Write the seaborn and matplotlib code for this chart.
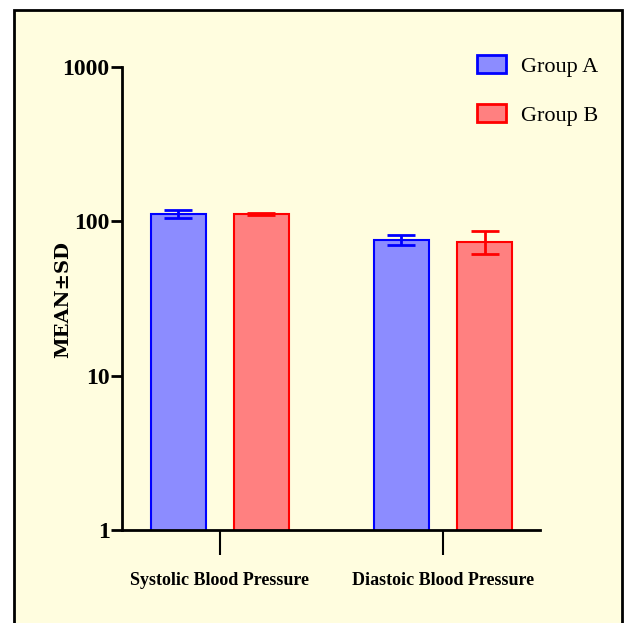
import matplotlib
matplotlib.use("Agg")
import matplotlib.pyplot as plt
import matplotlib.patches as mpatches
import seaborn as sns
import pandas as pd

categories = ["Systolic Blood Pressure", "Diastoic Blood Pressure"]
groups = ["Group A", "Group B"]
group_a_mean = [112, 76]
group_a_sd = [6.5, 5.5]
group_b_mean = [112, 74]
group_b_sd = [2, 12.5]

fill_colors = {"Group A": "#8C8CFF", "Group B": "#FF8080"}
edge_colors = {"Group A": "#0000FF", "Group B": "#FF0000"}

df = pd.DataFrame({
    "category": categories * 2,
    "group": [groups[0]] * 2 + [groups[1]] * 2,
    "mean": group_a_mean + group_b_mean,
    "sd": group_a_sd + group_b_sd,
})

sns.set_style("ticks")
plt.rcParams["font.family"] = ["Liberation Serif", "DejaVu Serif"]
plt.rcParams["text.color"] = "black"
plt.rcParams["axes.labelcolor"] = "black"
plt.rcParams["xtick.color"] = "black"
plt.rcParams["ytick.color"] = "black"
plt.rcParams["axes.edgecolor"] = "black"

fig = plt.figure(figsize=(6.26, 6.23), dpi=100)
fig.patch.set_facecolor("white")
panel = mpatches.Rectangle((14 / 626, -0.05), 608 / 626, 1.05 - 10 / 623,
                           transform=fig.transFigure, facecolor="#FFFDDF",
                           edgecolor="black", linewidth=2, zorder=-10)
fig.patches.append(panel)

ax = fig.add_axes([122 / 626, 1 - 530 / 623, 418 / 626, 463 / 623])
ax.set_facecolor("none")

sns.barplot(data=df, x="category", y="mean", hue="group", order=categories,
            hue_order=groups, palette=fill_colors, errorbar=None, width=0.745,
            gap=0.34, linewidth=1.5, ax=ax, log_scale=(False, True))

# edge colors and error bars, bar by bar
for container, g in zip(ax.containers, groups):
    sub = df[df["group"] == g].set_index("category").loc[categories]
    for bar, m, s in zip(container, sub["mean"], sub["sd"]):
        bar.set_edgecolor(edge_colors[g])
        bar.set_facecolor(fill_colors[g])
        xc = bar.get_x() + bar.get_width() / 2
        ax.errorbar(xc, m, yerr=s, color=edge_colors[g], capsize=10,
                    capthick=2, elinewidth=2, zorder=5)

ax.set_yscale("log")
ax.set_ylim(1, 1000)
ax.set_xlim(-0.439, 1.435)
ax.set_yticks([1, 10, 100, 1000])
ax.set_yticklabels(["1", "10", "100", "1000"])
ax.yaxis.set_minor_locator(matplotlib.ticker.NullLocator())

sns.despine(ax=ax)
for sp in ["left", "bottom"]:
    ax.spines[sp].set_linewidth(2)
ax.tick_params(axis="y", length=8, width=2, labelsize=17, pad=1)
ax.tick_params(axis="x", length=18, width=1.5, labelsize=13, pad=12)
for lbl in ax.get_yticklabels() + ax.get_xticklabels():
    lbl.set_fontweight("bold")

ax.set_xlabel("")
ax.set_ylabel("MEAN±SD", fontsize=14, fontweight="bold", family="DejaVu Serif")
ax.yaxis.set_label_coords((72 - 122) / 418, (530 - 300) / 463)

handles = [mpatches.Patch(facecolor=fill_colors[g], edgecolor=edge_colors[g],
                          linewidth=2, label=g) for g in groups]
ax.get_legend().remove()
fig.legend(handles=handles, loc="upper left", bbox_to_anchor=(457 / 626, 1 - 35 / 623),
           frameon=False, fontsize=16, handlelength=1.3, handleheight=0.85,
           labelspacing=1.25, handletextpad=0.7)

fig.savefig("out.png", dpi=100)
